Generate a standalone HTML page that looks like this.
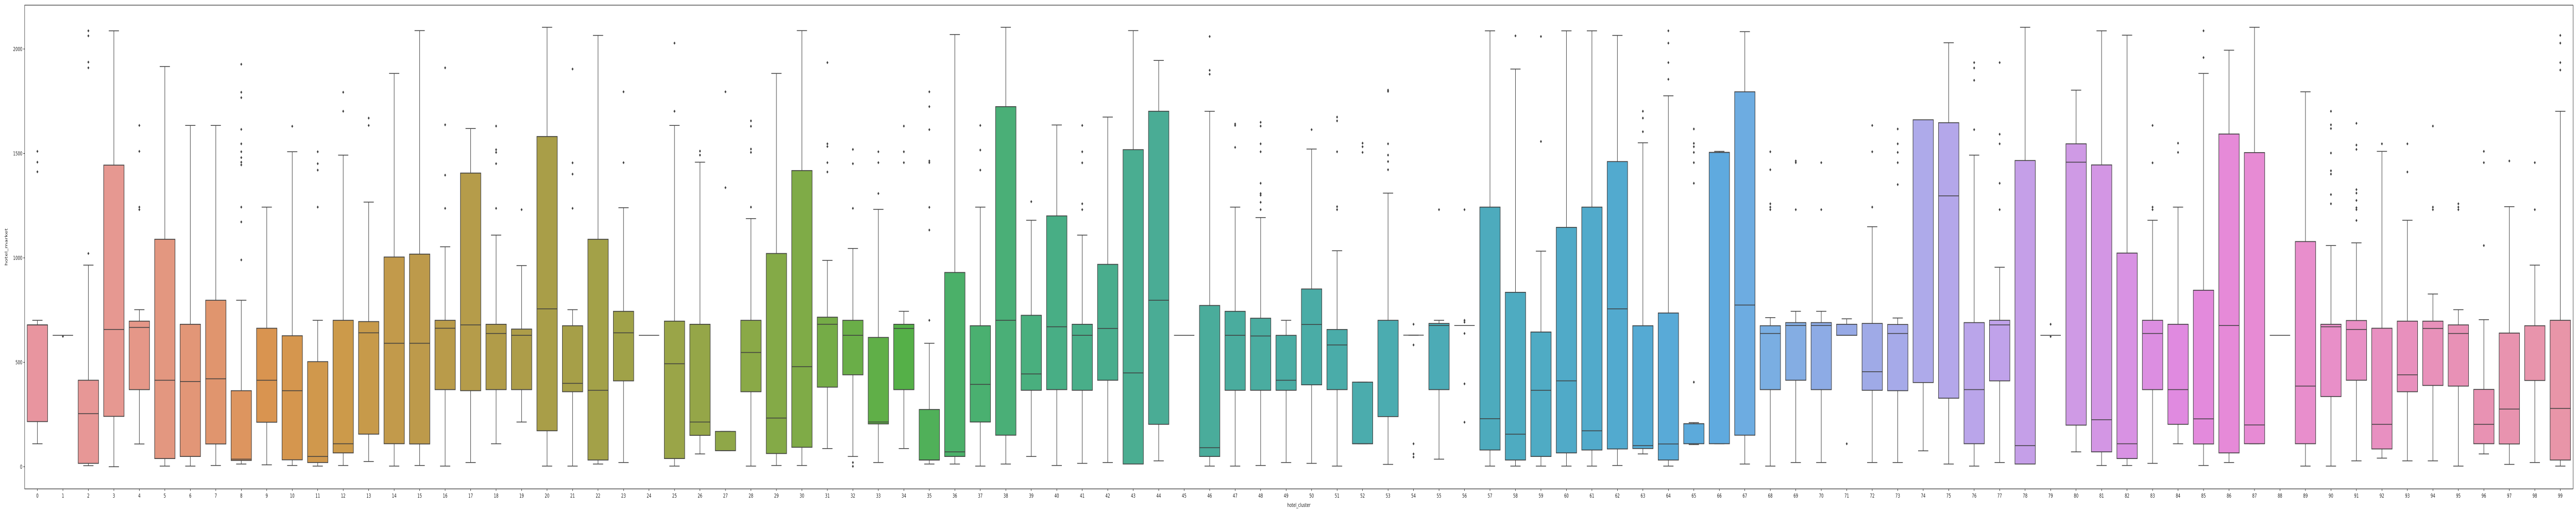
<!DOCTYPE html>
<html><head><meta charset="utf-8">
<style>
html,body{margin:0;padding:0;background:#fff;overflow:hidden;width:100%;height:100%;}
svg{display:block;width:100vw;height:100vh;font-family:"DejaVu Sans","Liberation Sans",sans-serif;}
</style></head>
<body>
<svg id="chart" viewBox="0 0 7834 987" preserveAspectRatio="none" xmlns="http://www.w3.org/2000/svg">
<rect x="0" y="0" width="7834" height="987" fill="#fff"/>
<g id="boxes"></g>
<g id="axes"></g>
</svg>
<script>
const categories = Array.from({length:100},(_,i)=>String(i));
const whiskerLow = [110,629,5,0,109,3,3,6,13,9,6,3,6,25,3,6,3,20,110,214,3,3,13,20,629,3,61,77,3,6,6,87,49,20,87,13,13,3,13,49,6,16,20,13,28,629,3,3,6,20,16,3,110,11,630,36,676,3,3,3,3,3,6,61,3,106,110,13,3,20,20,629,20,20,76,13,3,20,13,629,71,6,6,16,110,6,20,110,629,3,3,28,41,28,28,3,61,11,20,3];
const q1 = [216,629,16,241,369,39,49,109,30,213,33,20,66,156,110,109,369,364,369,369,172,359,32,411,629,39,150,77,359,63,93,381,440,205,369,32,49,214,151,366,369,366,414,13,203,629,49,366,366,366,392,369,110,240,630,369,676,80,32,49,66,80,85,87,32,110,110,151,369,414,369,629,366,364,403,328,110,411,13,629,199,71,39,369,203,109,66,110,629,110,336,414,85,359,389,386,110,109,413,32];
const median = [679,629,254,657,667,414,408,421,36,414,364,49,110,641,591,591,663,679,638,629,756,399,366,641,629,493,214,77,547,233,479,682,629,214,662,32,71,394,701,444,670,629,662,449,797,629,91,629,626,414,681,583,110,240,630,676,676,230,156,366,411,172,756,101,109,206,1505,774,638,676,676,629,455,638,1661,1297,369,679,101,629,1458,225,110,638,369,229,676,200,629,386,670,657,203,440,662,638,203,276,413,279];
const q3 = [679,629,414,1444,697,1089,682,797,364,663,627,503,701,695,1004,1018,701,1406,682,659,1581,675,1089,744,629,697,682,169,701,1021,1418,716,701,619,682,274,930,675,1724,725,1201,682,969,1518,1702,629,772,744,711,629,851,657,405,701,630,686,676,1243,835,645,1146,1243,1461,675,736,206,1505,1795,675,690,690,682,686,681,1661,1647,690,701,1466,629,1546,1445,1023,701,682,845,1593,1504,629,1078,682,700,663,697,697,679,370,640,675,701];
const whiskerHigh = [701,629,965,2087,752,1916,1634,1634,797,1243,1508,701,1492,1267,1883,2088,1053,1619,1109,963,2104,752,2065,1240,629,1634,1458,169,1188,1883,2088,988,1045,1232,744,591,2069,1243,2104,1180,1636,1109,1674,2088,1945,629,1702,1243,1193,701,1521,1034,405,1310,630,701,676,2087,1904,1032,2087,2087,2065,1551,1776,211,1510,2083,714,744,744,708,1149,712,1661,2030,1492,955,2104,629,1803,2087,2066,1180,1243,1883,1994,2104,629,1795,1059,1072,1510,1180,827,752,704,1245,965,1702];
const outliers = [
[1510,1458,1412],[624],[1021,1910,1937,2063,2087],[],[1634,1510,1243,1231],[],[],[],
[990,1172,1243,1445,1458,1480,1508,1546,1615,1767,1793,1927],[],[1630],[1243,1420,1451,1508],[1702,1793],
[1634,1669],[],[],[1237,1396,1637,1910],[],[1237,1451,1505,1518,1631],[1231],[],[1237,1401,1455,1904],
[],[1456,1795],[],[1702,2028],[1492,1511],[1336,1795],[1243,1505,1521,1630,1656],[],[],[1411,1456,1533,1546,1935],
[20,2,1237,1451,1519],[1308,1456,1508],[1456,1508,1631],[701,1133,1242,1456,1464,1614,1724,1795],[],[1420,1516,1634],[],[1269],[],
[1231,1259,1455,1508,1634],[],[],[],[],[1879,1898,2060],[1529,1634,1641],[1231,1266,1300,1308,1357,1508,1546,1631,1649],[],
[1614],[1231,1245,1508,1656,1674],[1505,1532,1549],[1422,1461,1492,1546,1797,1803],[682,583,110,61,46],[1231],[701,692,638,397,213,1231],[],[2063],
[1557,2060],[],[],[],[1604,1669,1702],[1855,1935,2028,2087],[405,1357,1456,1505,1532,1548,1617],[],[],
[1231,1243,1259,1422,1508],[1231,1456,1464],[1231,1456],[110],[1243,1508,1634],[1351,1456,1505,1546,1617],[],[],[1614,1850,1909,1935],
[1231,1357,1546,1592,1935],[],[682,623],[],[],[],[1231,1243,1455,1634],[1505,1549],[1959,2087],[],
[],[],[],[1259,1303,1401,1417,1502,1619,1637,1702],[1179,1231,1240,1275,1310,1327,1519,1540,1644],[1546],[1411,1546],[1231,1243,1631],[1231,1243,1259],
[1059,1456,1510],[1464],[1231,1456],[1899,1935,2028,2065]
];
const yTicks = [0,500,1000,1500,2000];

const AX = {left:75, right:7825, top:10, bottom:948};
const Y0 = 905, YS = 0.405;
function yScale(v){ return Y0 - v*YS; }
const step = (AX.right-AX.left)/categories.length;
function xScale(i){ return AX.left + step*(i+0.5); }
const boxW = step*0.8;

const keys = [[0,"#e8959f"],[3,"#e69891"],[7,"#e0956e"],[9,"#d99450"],[12,"#cc9a4a"],[15,"#bd9a4b"],[20,"#a99e48"],[25,"#9aa548"],[30,"#7fab47"],[34,"#55b048"],[36,"#4bb069"],[40,"#48ae85"],[44,"#4aac95"],[50,"#4aaca6"],[57,"#4dabbd"],[62,"#52aacf"],[66,"#5faadf"],[68,"#7aaee2"],[71,"#97aae6"],[74,"#aeaaea"],[77,"#c0a2ea"],[80,"#cf9ae5"],[84,"#e08ae0"],[86,"#e68ad8"],[89,"#e88ecc"],[95,"#e891b6"],[99,"#e895a8"]];
function hex2rgb(h){return [1,3,5].map(k=>parseInt(h.substr(k,2),16));}
function colorAt(i){
  for(let k=0;k<keys.length-1;k++){
    const [a,ca]=keys[k],[b,cb]=keys[k+1];
    if(i>=a&&i<=b){const t=(i-a)/(b-a);const A=hex2rgb(ca),B=hex2rgb(cb);
      return "rgb("+A.map((v,j)=>Math.round(v+(B[j]-v)*t)).join(",")+")";}
  }
  return keys[keys.length-1][1];
}

const NS="http://www.w3.org/2000/svg";
function mk(tag,attrs,parent){const e=document.createElementNS(NS,tag);for(const k in attrs)e.setAttribute(k,attrs[k]);parent.appendChild(e);return e;}
const LC="#3f3f3f";
const gB=document.getElementById('boxes');
categories.forEach((c,i)=>{
  const cx=xScale(i);
  const g=mk('g',{},gB);
  
  
  const yq1=yScale(q1[i]),yq3=yScale(q3[i]);
  const w1=mk('line',{x1:cx,x2:cx,y1:yq1,y2:yScale(whiskerLow[i]),stroke:LC,'stroke-width':1.5},g);
  
  
  const w2=mk('line',{x1:cx,x2:cx,y1:yq3,y2:yScale(whiskerHigh[i]),stroke:LC,'stroke-width':1.5},g);
  
  
  const c1=mk('line',{x1:cx-boxW/4,x2:cx+boxW/4,y1:yScale(whiskerLow[i]),y2:yScale(whiskerLow[i]),stroke:LC,'stroke-width':1.5},g);
  
  
  const c2=mk('line',{x1:cx-boxW/4,x2:cx+boxW/4,y1:yScale(whiskerHigh[i]),y2:yScale(whiskerHigh[i]),stroke:LC,'stroke-width':1.5},g);
  
  
  const r=mk('rect',{x:cx-boxW/2,y:Math.min(yq1,yq3),width:boxW,height:Math.abs(yq1-yq3),fill:colorAt(i),stroke:LC,'stroke-width':1.6},g);
  
  
  const m=mk('line',{x1:cx-boxW/2,x2:cx+boxW/2,y1:yScale(median[i]),y2:yScale(median[i]),stroke:LC,'stroke-width':1.5},g);
  
  
  outliers[i].forEach(v=>{
    const y=yScale(v),s=3;
    const p=mk('polygon',{points:`${cx},${y-s} ${cx+s},${y} ${cx},${y+s} ${cx-s},${y}`,fill:LC},g);
    
    
  });
});

const gA=document.getElementById('axes');
const frame=mk('rect',{x:AX.left,y:AX.top,width:AX.right-AX.left,height:AX.bottom-AX.top,fill:'none',stroke:'#000','stroke-width':1},gA);


yTicks.forEach(t=>{
  const y=yScale(t);
  const tk=mk('line',{x1:AX.left-4,x2:AX.left,y1:y,y2:y,stroke:'#000','stroke-width':1},gA);
  
  
  const tx=mk('text',{x:AX.left-7,y:y+4,'text-anchor':'end','font-size':11,fill:'#222'},gA);
  tx.textContent=t;
  
  
});
categories.forEach((c,i)=>{
  const x=xScale(i);
  const tk=mk('line',{x1:x,x2:x,y1:AX.bottom,y2:AX.bottom+4,stroke:'#000','stroke-width':1},gA);
  
  
  const tx=mk('text',{x:x,y:AX.bottom+17,'text-anchor':'middle','font-size':11,fill:'#222'},gA);
  tx.textContent=c;
  
  
});
const xl=mk('text',{x:(AX.left+AX.right)/2,y:983,'text-anchor':'middle','font-size':11,fill:'#222'},gA);
xl.textContent='hotel_cluster';


const yl=mk('text',{x:0,y:0,'text-anchor':'middle','font-size':11,fill:'#222',transform:`translate(23,${(AX.top+AX.bottom)/2}) rotate(-90)`},gA);
yl.textContent='hotel_market';


</script>
</body></html>
